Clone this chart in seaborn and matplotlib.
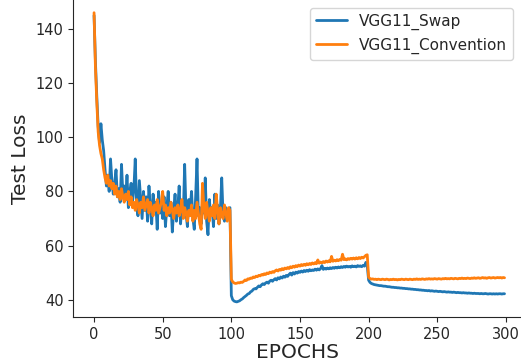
import numpy as np
import pandas as pd
import matplotlib
matplotlib.use('Agg')
import matplotlib.pyplot as plt
import seaborn as sns

# Test loss per epoch
swap_loss = [
    145, 128, 115, 104, 98, 105, 99, 95, 88, 82,
    86, 80, 92, 84, 79, 83, 88, 78, 81, 76,
    90, 79, 82, 77, 86, 74, 80, 83, 76, 81,
    92, 75, 71, 84, 77, 70, 80, 73, 78, 69,
    82, 74, 68, 79, 73, 76, 66, 80, 72, 75,
    70, 78, 67, 74, 80, 71, 76, 65, 73, 79,
    69, 74, 82, 68, 75, 71, 90, 72, 67, 77,
    73, 80, 70, 66, 78, 92, 71, 74, 68, 76,
    72, 85, 69, 64, 77, 71, 74, 67, 79, 70,
    75, 68, 73, 85, 71, 69, 74, 70, 72, 74,
    41.5, 40.0, 39.5, 39.3, 39.2, 39.4, 39.6, 40.0, 40.3, 40.8,
    41.2, 41.6, 42.1, 42.3, 42.9, 43.2, 43.8, 44.1, 44.0, 44.6,
    45.1, 44.8, 45.5, 45.9, 45.6, 46.2, 46.5, 46.1, 46.9, 47.2,
    46.8, 47.4, 47.8, 47.3, 48.1, 47.7, 48.4, 48.0, 48.7, 48.3,
    49.0, 48.6, 49.3, 49.8, 49.1, 50.0, 49.5, 50.2, 49.8, 50.4,
    50.1, 50.6, 50.2, 50.8, 50.4, 50.9, 50.5, 51.1, 50.7, 51.0,
    50.8, 51.3, 50.9, 51.4, 51.0, 51.5, 52.6, 51.2, 51.6, 51.3,
    51.7, 51.4, 51.8, 51.5, 51.9, 51.6, 52.0, 51.7, 52.1, 51.8,
    52.2, 51.9, 52.3, 52.0, 52.4, 52.1, 52.3, 52.0, 52.5, 52.2,
    52.4, 52.1, 52.6, 52.3, 52.5, 52.2, 52.7, 52.4, 53.8, 52.6,
    47.2, 46.4, 46.0, 45.8, 45.6, 45.5, 45.4, 45.3, 45.2, 45.2,
    45.1, 45.0, 45.0, 44.9, 44.8, 44.8, 44.7, 44.6, 44.6, 44.5,
    44.5, 44.4, 44.4, 44.3, 44.3, 44.2, 44.2, 44.1, 44.1, 44.0,
    44.0, 43.9, 43.9, 43.8, 43.8, 43.7, 43.7, 43.6, 43.6, 43.5,
    43.5, 43.4, 43.4, 43.3, 43.4, 43.2, 43.3, 43.2, 43.1, 43.2,
    43.1, 43.0, 43.1, 43.0, 42.9, 43.0, 42.9, 42.8, 42.9, 42.8,
    42.8, 42.7, 42.8, 42.7, 42.6, 42.7, 42.6, 42.6, 42.5, 42.6,
    42.5, 42.5, 42.4, 42.5, 42.4, 42.4, 42.3, 42.4, 42.3, 42.3,
    42.3, 42.2, 42.3, 42.2, 42.2, 42.3, 42.2, 42.1, 42.2, 42.2,
    42.1, 42.2, 42.1, 42.2, 42.1, 42.2, 42.2, 42.1, 42.2, 42.2,
]

convention_loss = [
    146, 126, 113, 102, 97, 94, 92, 88, 85, 83,
    86, 82, 84, 81, 83, 79, 82, 78, 80, 77,
    81, 78, 76, 79, 77, 80, 75, 78, 74, 76,
    73, 77, 75, 72, 76, 74, 78, 73, 75, 77,
    72, 76, 74, 71, 75, 73, 77, 72, 74, 76,
    80, 73, 75, 71, 74, 72, 76, 73, 70, 74,
    72, 75, 71, 73, 77, 70, 74, 72, 69, 73,
    71, 75, 69, 73, 70, 76, 72, 68, 66, 83,
    74, 70, 76, 72, 69, 74, 71, 75, 70, 79,
    73, 68, 74, 71, 70, 75, 72, 69, 74, 73,
    47.5, 46.6, 46.2, 46.0, 46.1, 46.3, 46.2, 46.5, 46.4, 46.8,
    47.3, 47.1, 47.7, 47.6, 48.0, 47.9, 48.4, 48.2, 48.7, 48.5,
    49.0, 48.8, 49.3, 49.1, 49.6, 49.3, 49.9, 49.6, 50.2, 49.9,
    50.4, 50.1, 50.7, 51.0, 50.6, 51.2, 50.9, 51.5, 51.1, 51.7,
    51.4, 51.9, 51.5, 52.2, 51.8, 52.4, 52.0, 52.6, 52.2, 52.8,
    52.4, 53.0, 52.6, 53.1, 52.7, 53.3, 52.9, 53.4, 53.0, 53.6,
    53.2, 53.7, 53.3, 54.7, 53.5, 53.9, 53.6, 54.1, 53.7, 54.3,
    53.9, 54.4, 54.0, 56.0, 54.2, 54.6, 54.3, 54.8, 54.4, 54.9,
    54.6, 56.8, 54.8, 55.1, 54.7, 55.2, 54.9, 55.3, 55.0, 55.4,
    55.0, 55.5, 55.1, 55.6, 55.2, 55.7, 55.4, 55.9, 56.4, 56.6,
    48.3, 47.8, 47.6, 47.7, 47.5, 47.6, 47.4, 47.6, 47.5, 47.4,
    47.6, 47.5, 47.4, 47.6, 47.5, 47.3, 47.5, 47.4, 47.6, 47.4,
    47.5, 47.3, 47.5, 47.4, 47.6, 47.5, 47.4, 47.6, 47.5, 47.4,
    47.6, 47.5, 47.4, 47.6, 47.5, 47.7, 47.5, 47.6, 47.5, 47.7,
    47.6, 47.5, 47.7, 47.6, 47.8, 47.6, 47.7, 47.6, 47.8, 47.7,
    47.6, 47.8, 47.7, 47.6, 47.8, 47.7, 47.9, 47.7, 47.8, 47.7,
    47.9, 47.8, 47.7, 47.9, 47.8, 47.7, 47.9, 47.8, 48.0, 47.8,
    47.9, 47.8, 48.0, 47.9, 47.8, 48.0, 47.9, 48.1, 47.9, 48.0,
    48.1, 47.9, 48.0, 48.2, 48.0, 48.1, 47.9, 48.1, 48.2, 48.0,
    48.1, 48.2, 48.0, 48.1, 48.2, 48.1, 48.2, 48.0, 48.2, 48.1,
]

model_names = ['VGG11_Swap', 'VGG11_Convention']
epochs = np.arange(len(swap_loss))

df = pd.DataFrame({
    'Epoch': np.concatenate([epochs, epochs]),
    'Loss': swap_loss + convention_loss,
    'Model': [model_names[0]] * len(swap_loss) + [model_names[1]] * len(convention_loss),
})

sns.set_style('ticks')
plt.rcParams['font.family'] = ['DejaVu Sans']

fig = plt.figure(figsize=(5.21, 3.64), dpi=100)
ax = fig.add_axes([0.141, 0.129, 0.859, 0.871])

sns.lineplot(data=df, x='Epoch', y='Loss', hue='Model',
             palette=['#1f77b4', '#ff7f0e'], linewidth=2, ax=ax)

ax.set_xlim(-15, 311)
ax.set_ylim(33.6, 150.7)
ax.set_xticks([0, 50, 100, 150, 200, 250, 300])
ax.set_yticks([40, 60, 80, 100, 120, 140])
ax.tick_params(labelsize=10.5)
ax.set_xlabel('EPOCHS', fontsize=14.5, labelpad=1)
ax.set_ylabel('Test Loss', fontsize=14.5)
sns.despine(ax=ax)

leg = ax.legend(loc='upper right', fontsize=11, frameon=True)
leg.set_title(None)

fig.savefig('out.png', dpi=100)
